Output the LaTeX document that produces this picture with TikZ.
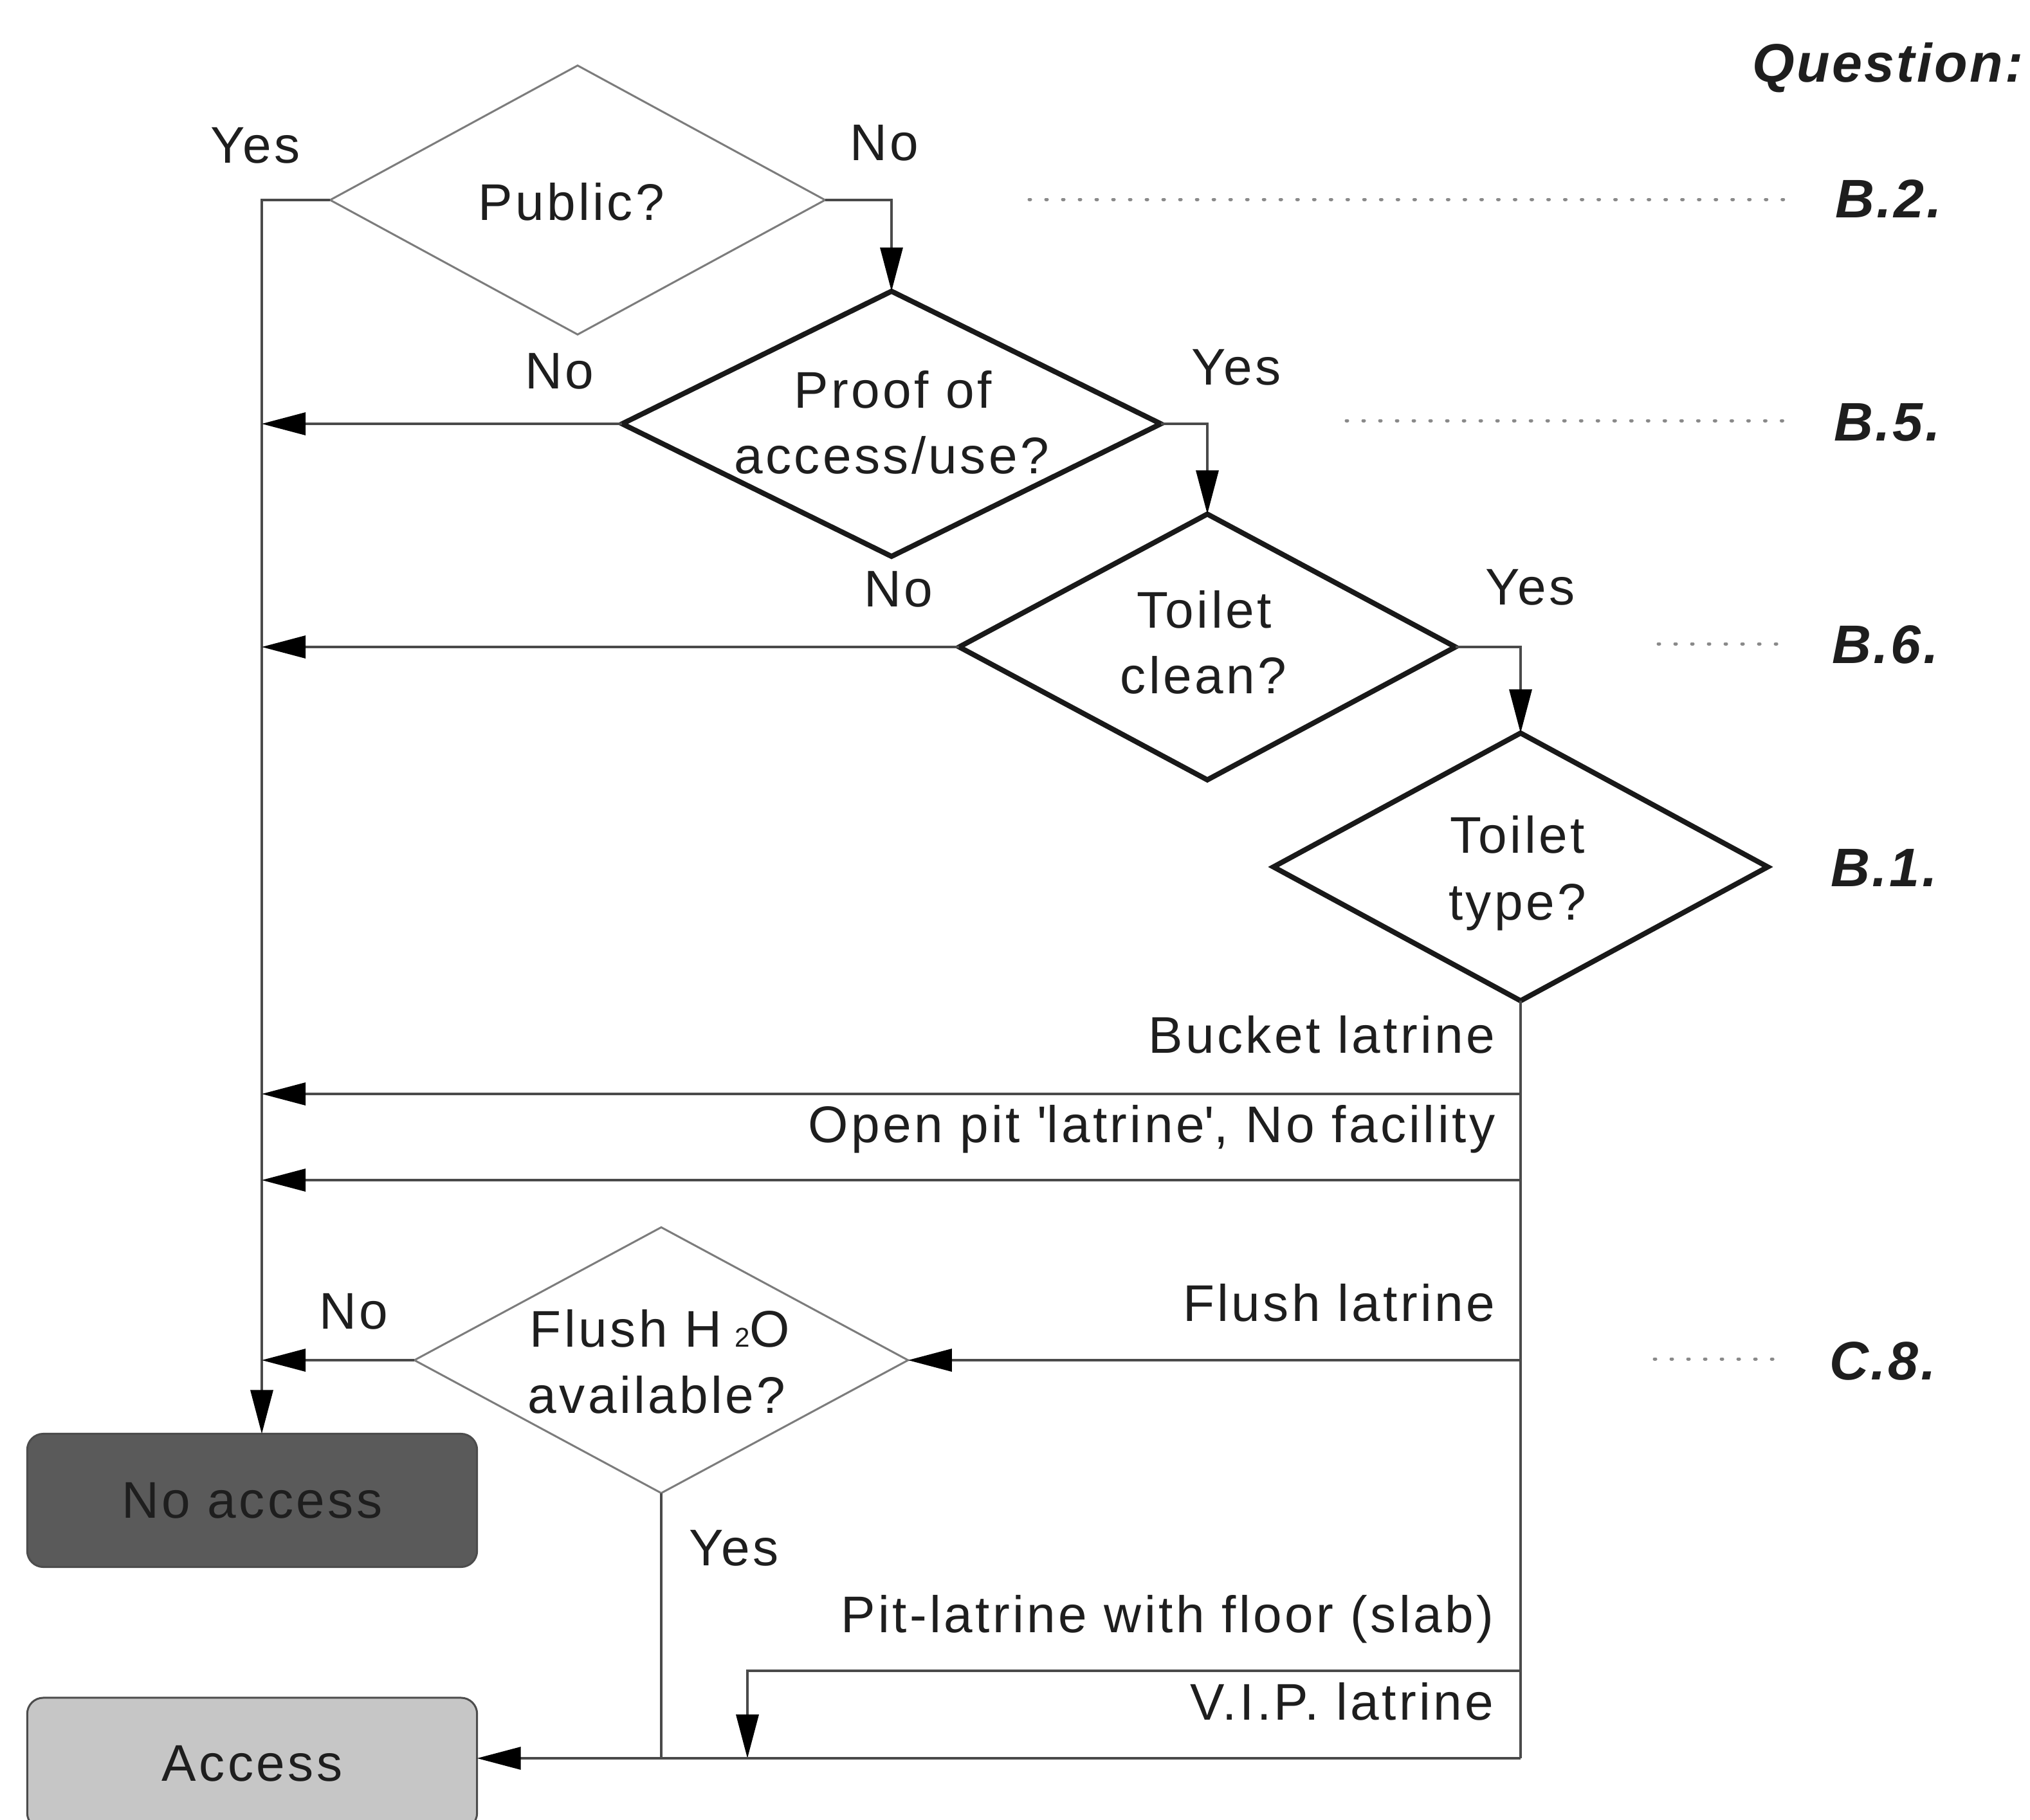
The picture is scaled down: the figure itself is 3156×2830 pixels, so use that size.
\documentclass[tikz,border=0pt]{standalone}
\usepackage{fontspec}
\setmainfont{Liberation Sans}[LetterSpace=5.5]
\newfontfamily\qfont{Liberation Sans}[LetterSpace=4]
\usetikzlibrary{shapes.geometric,arrows.meta}
\definecolor{linegray}{HTML}{4A4A4A}
\definecolor{thingray}{HTML}{7C7C7C}
\definecolor{dotgray}{HTML}{8A8A8A}
\definecolor{darkbox}{HTML}{5A5A5A}
\definecolor{lightbox}{HTML}{C6C6C6}
\definecolor{inkc}{HTML}{1E1E1E}
\begin{document}
\begin{tikzpicture}[x=0.01cm,y=-0.01cm,
  txt/.style={font=\fontsize{22.8}{29.6}\selectfont, inner sep=0pt, text=inkc},
  qtxt/.style={font={\qfont\fontsize{24}{30}\selectfont\bfseries\itshape}, inner sep=0pt, text=inkc},
  boldd/.style={diamond, draw=black!90, line width=0.08cm, inner sep=0pt, outer sep=0pt},
  thind/.style={diamond, draw=thingray, line width=0.03cm, inner sep=0pt, outer sep=0pt},
  conn/.style={draw=linegray, line width=0.033cm},
  arr/.style={conn, -{Triangle[length=0.68cm,width=0.35cm,color=black]}},
  dots/.style={draw=dotgray, line width=0.05cm, line cap=round, dash pattern=on 0.02cm off 0.24cm},
  endbox/.style={rectangle, rounded corners=0.25cm, draw=black!70, line width=0.03cm,
    minimum width=6.99cm, inner sep=0pt, outer sep=0pt, text=inkc,
    font=\fontsize{22.8}{29.6}\selectfont}
]
\clip (0,0) rectangle (3156,2830);
\fill[white] (0,0) rectangle (3156,2830);

% coordinates
\coordinate (L) at (407,0);
\coordinate (Vbot) at (2364,2734);
\coordinate (bucketR) at (2364,1701);
\coordinate (openR) at (2364,1835);
\coordinate (pitR) at (2364,2598);
\coordinate (pitL) at (1162,2598);

% diamonds
\node[thind, minimum width=7.69cm, minimum height=4.18cm] (public) at (898,311) {};
\node[boldd, minimum width=8.37cm, minimum height=4.12cm] (proof) at (1386,659) {};
\node[boldd, minimum width=7.71cm, minimum height=4.13cm] (clean) at (1877,1006) {};
\node[boldd, minimum width=7.68cm, minimum height=4.16cm] (type) at (2364,1348) {};
\node[thind, minimum width=7.67cm, minimum height=4.13cm] (flush) at (1028,2115) {};

% end boxes
\node[endbox, fill=darkbox, minimum height=2.07cm] (noacc) at (392,2333) {No access};
\node[endbox, fill=lightbox, minimum height=2.04cm] (access) at (392,2742) {Access};

% connectors
\draw[arr] (public.west) -| (L |- noacc.north);
\draw[arr] (public.east) -| (proof.north);
\draw[arr] (proof.west) -- (proof.west -| L);
\draw[arr] (proof.east) -| (clean.north);
\draw[arr] (clean.west) -- (clean.west -| L);
\draw[arr] (clean.east) -| (type.north);
\draw[conn] (type.south) -- (Vbot);
\draw[arr] (bucketR) -- (bucketR -| L);
\draw[arr] (openR) -- (openR -| L);
\draw[arr] (flush.east -| Vbot) -- (flush.east);
\draw[arr] (pitR) -| (pitL |- Vbot);
\draw[arr] (Vbot) -- (Vbot -| access.east);
\draw[arr] (flush.west) -- (flush.west -| L);
\draw[conn] (flush.south) -- (flush.south |- Vbot);

% dotted guide lines
\coordinate (d2a) at (1600,310); \coordinate (d2b) at (2786,310);
\coordinate (d5a) at (2093,654); \coordinate (d5b) at (2781,654);
\coordinate (d6a) at (2578,1001); \coordinate (d6b) at (2774,1001);
\coordinate (d8a) at (2572,2113); \coordinate (d8b) at (2766,2113);
\draw[dots] (d2a) -- (d2b);
\draw[dots] (d5a) -- (d5b);
\draw[dots] (d6a) -- (d6b);
\draw[dots] (d8a) -- (d8b);

% diamond texts
\node[txt, anchor=base] (publicT) at (888,342) {Public?};
\node[txt, anchor=base] (proofT1) at (1388,634) {Proof of};
\node[txt, anchor=base] (proofT2) at (1386,736) {access/use?};
\node[txt, anchor=base] (cleanT1) at (1872,976) {Toilet};
\node[txt, anchor=base] (cleanT2) at (1871,1078) {clean?};
\node[txt, anchor=base] (typeT1) at (2359,1326) {Toilet};
\node[txt, anchor=base] (typeT2) at (2359,1430) {type?};
\node[txt, anchor=base] (flushT1) at (1026,2094) {Flush H\hspace{0.25em}{\fontsize{12}{12}\selectfont 2}O};
\node[txt, anchor=base] (flushT2) at (1021,2197) {available?};

% yes / no labels
\node[txt, anchor=base] (y1) at (397,253) {Yes};
\node[txt, anchor=base] (n1) at (1375,249) {No};
\node[txt, anchor=base] (n2) at (870,604) {No};
\node[txt, anchor=base] (y2) at (1922,598) {Yes};
\node[txt, anchor=base] (n3) at (1397,943) {No};
\node[txt, anchor=base] (y3) at (2379,940) {Yes};
\node[txt, anchor=base] (n4) at (550,2066) {No};
\node[txt, anchor=base] (y4) at (1141,2434) {Yes};

% branch labels
\node[txt, anchor=base east] (bl1) at (2325,1637) {Bucket latrine};
\node[txt, anchor=base east] (bl2) at (2325,1776) {Open pit \textquotesingle latrine\textquotesingle, No facility};
\node[txt, anchor=base east] (bl3) at (2325,2054) {Flush latrine};
\node[txt, anchor=base east] (bl4) at (2323,2538) {Pit-latrine with floor (slab)};
\node[txt, anchor=base east] (bl5) at (2323,2674) {V.I.P. latrine};

% question column
\node[qtxt, anchor=base east] (qh) at (3146,127) {Question:};
\node[qtxt, anchor=base west] (qb2) at (2853,338) {B.2.};
\node[qtxt, anchor=base west] (qb5) at (2851,685) {B.5.};
\node[qtxt, anchor=base west] (qb6) at (2848,1031) {B.6.};
\node[qtxt, anchor=base west] (qb1) at (2846,1378) {B.1.};
\node[qtxt, anchor=base west] (qc8) at (2844,2145) {C.8.};
\end{tikzpicture}
\end{document}
